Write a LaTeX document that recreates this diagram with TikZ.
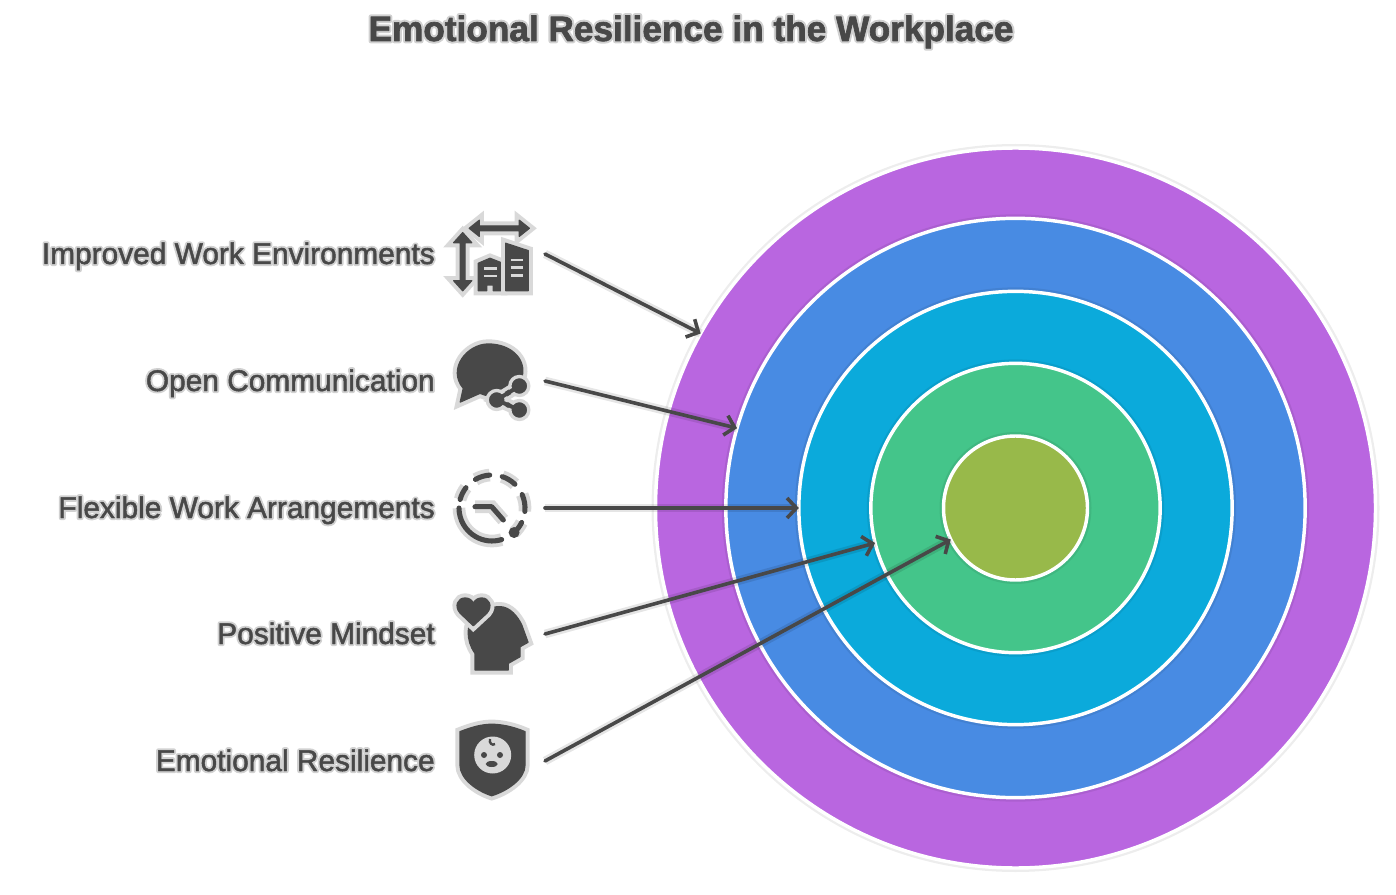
\documentclass[tikz,border=0pt]{standalone}
\usepackage{fontspec}
\setmainfont{Liberation Sans}
\usetikzlibrary{arrows.meta}
\definecolor{inkgray}{HTML}{484848}
\definecolor{halogray}{HTML}{D9D9D9}
\definecolor{ringpurple}{HTML}{B966E0}
\definecolor{ringblue}{HTML}{488BE3}
\definecolor{ringcyan}{HTML}{0BAADB}
\definecolor{ringgreen}{HTML}{44C58A}
\definecolor{ringolive}{HTML}{98B94A}
% light outline behind the letters, thin stroke to thicken them
\newcommand{\halotext}[1]{\rlap{\special{pdf:code q 1 Tr 1 j 3.2 w 0.82 0.82 0.82 RG}#1\special{pdf:code Q}}\special{pdf:code q 2 Tr 1 j 0.35 w 0.282 0.282 0.282 RG}#1\special{pdf:code Q}}
\newcommand{\halotitle}[1]{\rlap{\special{pdf:code q 1 Tr 1 j 3.6 w 0.82 0.82 0.82 RG}#1\special{pdf:code Q}}\special{pdf:code q 2 Tr 1 j 0.5 w 0.282 0.282 0.282 RG}#1\special{pdf:code Q}}
\tikzset{
  ring/.style={circle,draw=white,line width=2.6pt,outer sep=0pt,inner sep=0pt,minimum size=#1,
    preaction={draw=black,draw opacity=0.07,line width=6pt}},
  itemlabel/.style={anchor=base east,inner sep=0pt,text=inkgray,font=\fontsize{22.4pt}{26pt}\selectfont},
  iconbox/.style={minimum size=79.5pt,inner sep=0pt,outer sep=0pt},
  pointer/.style={draw=inkgray,line width=2.7pt,line cap=round,-{Straight Barb[length=7pt,width=15pt,line width=2.7pt]},
    preaction={draw=black,draw opacity=0.1,line width=6.5pt,-{}}},
  iconfill/.style={fill=inkgray,draw=inkgray,line width=1pt,line join=round,
    preaction={draw=halogray,line width=7pt}},
  iconline/.style={draw=inkgray,line width=3.8pt,line cap=round,line join=round,
    preaction={draw=halogray,line width=9.5pt}},
  icondot/.style={fill=inkgray,draw=halogray,line width=2.5pt},
  iconbar/.style={draw=halogray,line width=2pt}
}
\begin{document}
\begin{tikzpicture}[x=0.75pt,y=0.75pt]
  \useasboundingbox (0,0) rectangle (1396,894);

  % title
  \node[anchor=base,inner sep=0pt,text=inkgray,font=\bfseries\fontsize{26.4pt}{32pt}\selectfont] (title) at (691,853) {\halotitle{Emotional Resilience in the Workplace}};

  % target
  \node[ring=540pt,fill=ringpurple] (ringA) at (1015.5,386) {};
  \node[ring=434.5pt,fill=ringblue] (ringB) at (1015.5,386) {};
  \node[ring=325pt,fill=ringcyan] (ringC) at (1015.5,386) {};
  \node[ring=217pt,fill=ringgreen] (ringD) at (1015.5,386) {};
  \node[ring=108pt,fill=ringolive] (ringE) at (1015.5,386) {};

  % rows
  \node[iconbox] (iconA) at (492,640) {};
  \node[iconbox] (iconB) at (492,513) {};
  \node[iconbox] (iconC) at (492,386) {};
  \node[iconbox] (iconD) at (492,260) {};
  \node[iconbox] (iconE) at (492,133) {};

  \node[itemlabel] (labelA) at (435,630) {\halotext{Improved Work Environments}};
  \node[itemlabel] (labelB) at (435,503) {\halotext{Open Communication}};
  \node[itemlabel] (labelC) at (435,376) {\halotext{Flexible Work Arrangements}};
  \node[itemlabel] (labelD) at (435,250) {\halotext{Positive Mindset}};
  \node[itemlabel] (labelE) at (435,123) {\halotext{Emotional Resilience}};

  % buildings
  \begin{scope}[shift={(iconA.center)}]
    \draw[iconfill] (-22.7,25.7) -- (-12.7,33.7) -- (-12.7,28) -- (27.3,28) -- (27.3,33.7) -- (37.3,25.7)
      -- (27.3,17.7) -- (27.3,23.4) -- (-12.7,23.4) -- (-12.7,17.7) -- cycle;
    \draw[iconfill] (-29.3,21.3) -- (-38.3,11.3) -- (-31.6,11.3) -- (-31.6,-26.7) -- (-38.3,-26.7) -- (-29.3,-36.7)
      -- (-20.3,-26.7) -- (-27,-26.7) -- (-27,11.3) -- (-20.3,11.3) -- cycle;
    \draw[iconfill] (-13.7,-36.7) -- (-13.7,-9.3) -- (-2,-4.3) -- (10.7,-9.3) -- (10.7,-36.7) -- (1.3,-36.7)
      -- (1.3,-31) -- (-5.3,-31) -- (-5.3,-36.7) -- cycle;
    \draw[iconfill] (13.7,-36.7) -- (13.7,10.7) -- (36.3,3.3) -- (36.3,-36.7) -- cycle;
    \draw[iconbar] (-8,-14.3) -- (4.7,-14.3) (-8,-22) -- (4.7,-22);
    \draw[iconbar] (18.7,-6) -- (31.3,-6) (18.7,-13.7) -- (31.3,-13.7) (18.7,-21.7) -- (31.3,-21.7);
  \end{scope}

  % speech bubble
  \begin{scope}[shift={(iconB.center)}]
    \draw[iconfill] (-31.7,-21) -- (-28.7,-7.3) .. controls (-45,12) and (-25,37) .. (-3.7,37)
      .. controls (20,37) and (38,20) .. (28,-2) .. controls (20,-15) and (0,-18) .. (-12,-12.3) -- cycle;
    \draw[iconline] (27.3,-5) -- (4.7,-19) -- (27.3,-29);
    \draw[icondot] (27.3,-5) circle (9.5);
    \draw[icondot] (4.7,-19) circle (9.5);
    \draw[icondot] (27.3,-29) circle (9.5);
    \draw[inkgray,line width=3pt] (27.3,-5) -- (4.7,-19) -- (27.3,-29);
  \end{scope}

  % dashed clock
  \begin{scope}[shift={(iconC.center)}]
    \draw[iconline] (180:33) arc[start angle=180,end angle=287,radius=33];
    \draw[iconline] (165:33) arc[start angle=165,end angle=142,radius=33];
    \draw[iconline] (120:33) arc[start angle=120,end angle=94,radius=33];
    \draw[iconline] (72:33) arc[start angle=72,end angle=46,radius=33];
    \draw[iconline] (24:33) arc[start angle=24,end angle=-6,radius=33];
    \draw[iconline] (-26:33) arc[start angle=-26,end angle=-48,radius=33];
    \fill[inkgray] (-48:33) circle (5.5);
    \draw[iconline] (-17,1.3) -- (-0.3,1.3) -- (11.3,-12);
  \end{scope}

  % head and heart
  \begin{scope}[shift={(iconD.center)}]
    \draw[iconfill] (-17,-36) -- (-17,-19.3) .. controls (-22,-12) and (-23.7,-6) .. (-23.7,2)
      .. controls (-23.7,18) and (-8,27.3) .. (8,27.3) .. controls (18,27.3) and (26,17) .. (29.7,9)
      -- (36,-8.3) -- (28,-12.7) -- (28,-22.7) -- (16.3,-29.3) -- (16.3,-36) -- cycle;
    \draw[iconfill] (-18.7,8.3) -- (-32,21) .. controls (-38,28) and (-34,36) .. (-27,36)
      .. controls (-23,36) and (-20,34) .. (-18.7,30.7) .. controls (-17,34) and (-14,36) .. (-10.3,36)
      .. controls (-3,36) and (1,28) .. (-5,21) -- cycle;
  \end{scope}

  % shield and face
  \begin{scope}[shift={(iconE.center)}]
    \draw[iconfill] (-32,29.3) .. controls (-20,34) and (-10,36.7) .. (-0.3,36.7) .. controls (10,36.7) and (22,34) .. (33,29.3)
      -- (33,-4) .. controls (33,-18) and (15,-30) .. (-0.3,-34.7) .. controls (-15,-30) and (-32,-18) .. (-32,-4) -- cycle;
    \fill[halogray] (0.7,6) circle (18.5);
    \fill[inkgray] (-8,6) circle (3);
    \fill[inkgray] (8,6) circle (3);
    \fill[inkgray] (-0.3,-3) ellipse (6 and 3);
    \draw[inkgray,line width=1.8pt] (-2,22) .. controls (-3,18) and (0,15) .. (3,17);
  \end{scope}

  % connectors
  \draw[pointer] (iconA.east) -- (ringA.151.8);
  \draw[pointer] (iconB.east) -- (ringB.164.8);
  \draw[pointer] (iconC.east) -- (ringC.180);
  \draw[pointer] (iconD.east) -- (ringD.194.8);
  \draw[pointer] (iconE.east) -- (ringE.206.2);
\end{tikzpicture}
\end{document}
